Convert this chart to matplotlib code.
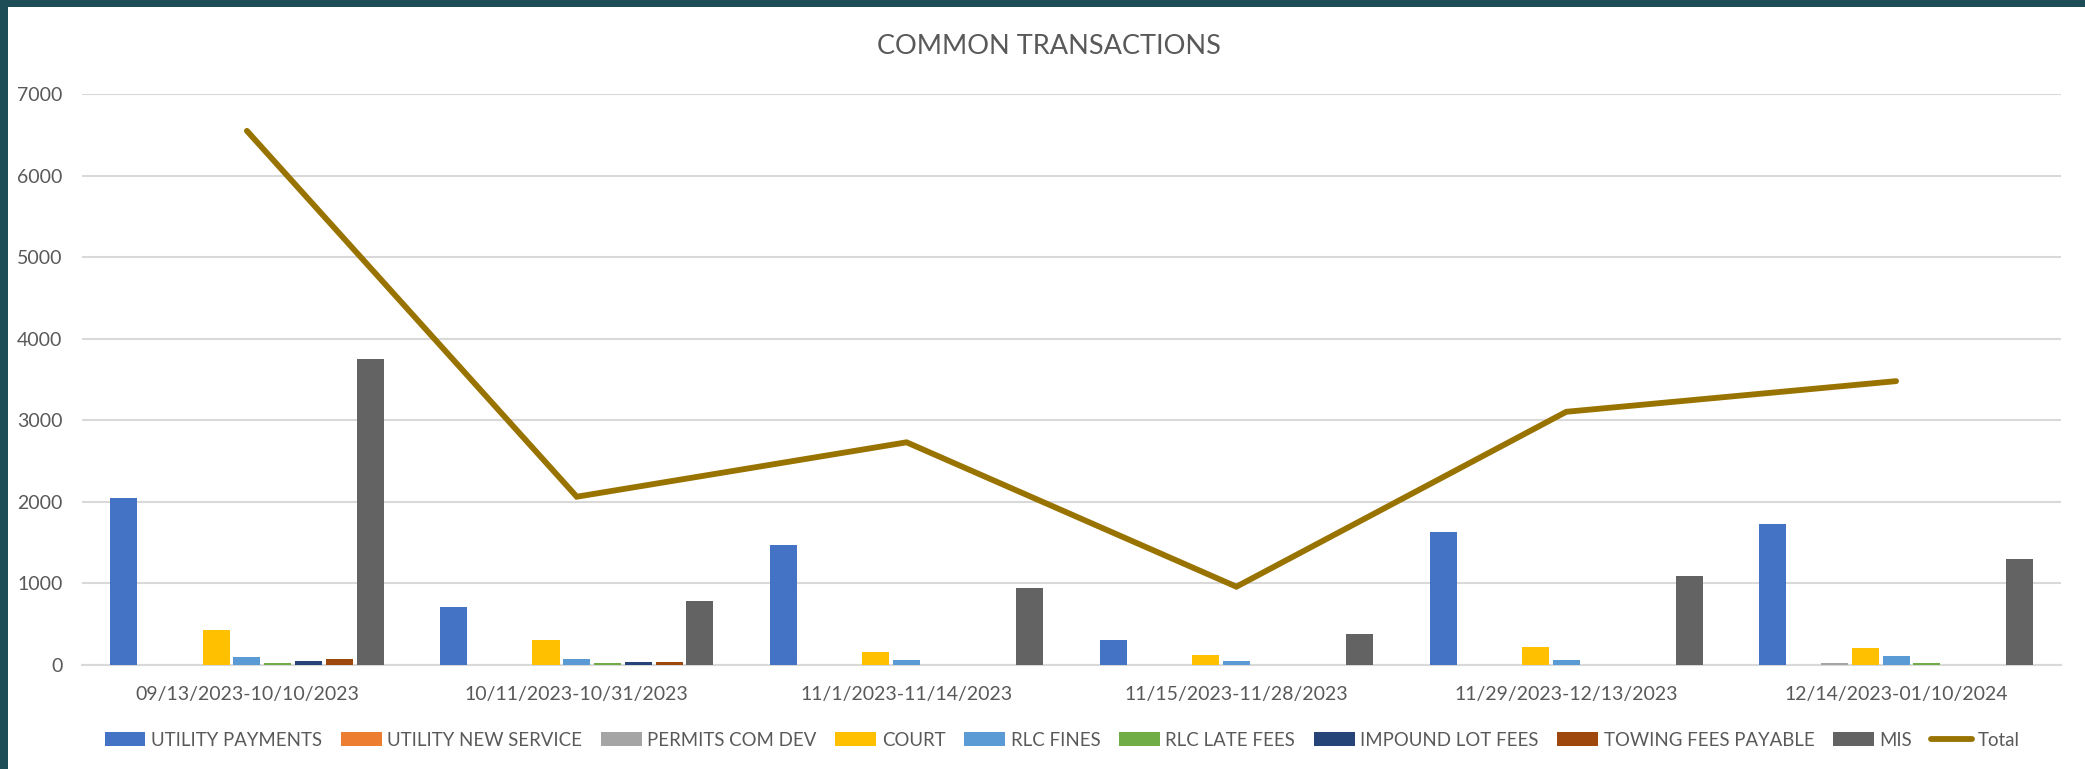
import numpy as np
import matplotlib
matplotlib.use("Agg")
import matplotlib.pyplot as plt
from matplotlib.patches import Rectangle

plt.rcParams['font.family'] = ['Lato', 'DejaVu Sans']

periods = ["09/13/2023-10/10/2023", "10/11/2023-10/31/2023", "11/1/2023-11/14/2023",
           "11/15/2023-11/28/2023", "11/29/2023-12/13/2023", "12/14/2023-01/10/2024"]

utility_payments = [2045, 714, 1475, 302, 1626, 1724]
utility_new_service = [0, 0, 0, 0, 0, 0]
permits_com_dev = [0, 0, 0, 0, 0, 20]
court = [429, 302, 155, 119, 217, 204]
rlc_fines = [94, 77, 65, 45, 65, 110]
rlc_late_fees = [25, 20, 0, 0, 0, 20]
impound_lot_fees = [53, 33, 0, 0, 0, 0]
towing_fees_payable = [70, 33, 0, 0, 0, 0]
mis = [3746, 780, 948, 380, 1091, 1295]
total = [6548, 2063, 2730, 960, 3104, 3480]

series_names = ["UTILITY PAYMENTS", "UTILITY NEW SERVICE", "PERMITS COM DEV", "COURT",
                "RLC FINES", "RLC LATE FEES", "IMPOUND LOT FEES", "TOWING FEES PAYABLE", "MIS"]
series_values = [utility_payments, utility_new_service, permits_com_dev, court, rlc_fines,
                 rlc_late_fees, impound_lot_fees, towing_fees_payable, mis]
colors = ["#4472C4", "#ED7D31", "#A5A5A5", "#FFC000", "#5B9BD5",
          "#70AD47", "#264478", "#9E480E", "#636363"]
total_color = "#997300"
text_color = "#595959"
border_color = "#1d4d57"

fig = plt.figure(figsize=(20.85, 7.69), dpi=100)
fig.patch.set_facecolor("white")
# dark frame at top and left of the chart
fig.patches.append(Rectangle((0, 1 - 7 / 769), 1, 7 / 769, transform=fig.transFigure,
                             facecolor=border_color, edgecolor="none"))
fig.patches.append(Rectangle((0, 0), 8 / 2085, 1, transform=fig.transFigure,
                             facecolor=border_color, edgecolor="none"))

ax = fig.add_axes([82 / 2085, 1 - 665 / 769, (2061 - 82) / 2085, (665 - 94) / 769])
ax.set_facecolor("white")

x = np.arange(len(periods))
n = len(series_values)
slot = 0.84 / n
bar_w = slot * 0.88
bar_handles = []
for i, (name, vals, c) in enumerate(zip(series_names, series_values, colors)):
    off = (i - (n - 1) / 2) * slot
    b = ax.bar(x + off, vals, width=bar_w, color=c, label=name, zorder=3)
    bar_handles.append(b)

line, = ax.plot(x, total, color=total_color, lw=4.2, label="Total", zorder=4,
                solid_capstyle="round", solid_joinstyle="miter")

ax.set_xlim(-0.5, len(periods) - 0.5)
ax.set_ylim(0, 7000)
ax.set_yticks(range(0, 7001, 1000))
ax.yaxis.grid(True, color="#D9D9D9", lw=1.5, zorder=0)
ax.set_axisbelow(True)
ax.set_xticks(x)
ax.set_xticklabels(periods)
ax.tick_params(axis="both", length=0, colors=text_color, labelsize=14)
ax.tick_params(axis="x", pad=15)
ax.tick_params(axis="y", pad=14)
for s in ["top", "right", "left"]:
    ax.spines[s].set_visible(False)
ax.spines["bottom"].set_color("#D9D9D9")
ax.spines["bottom"].set_linewidth(1.5)

fig.text(1049 / 2085, 1 - 46 / 769, "COMMON TRANSACTIONS", ha="center", va="center",
         fontsize=19.5, color=text_color)

handles = bar_handles + [line]
labels = series_names + ["Total"]
leg = fig.legend(handles, labels, loc="center", bbox_to_anchor=(1062 / 2085, 1 - 740 / 769),
                 ncol=10, frameon=False, fontsize=13.4, handlelength=2.2, handleheight=0.8,
                 handletextpad=0.3, columnspacing=1.0, labelcolor=text_color)

fig.savefig("out.png", dpi=100, facecolor=fig.get_facecolor())
